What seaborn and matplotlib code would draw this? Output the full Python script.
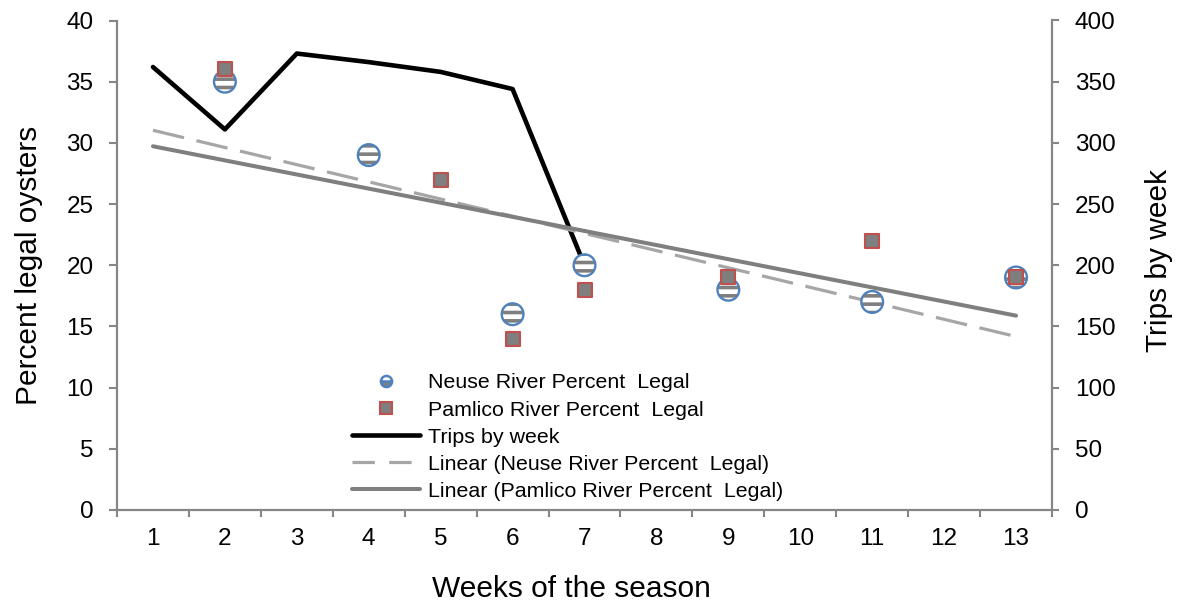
import numpy as np
import pandas as pd
import matplotlib
matplotlib.use("Agg")
import matplotlib.pyplot as plt
from matplotlib.lines import Line2D
import seaborn as sns

# Season weeks (category axis)
weeks = list(range(1, 14))

# Percent legal oysters by river
neuse_weeks = [2, 4, 6, 7, 9, 11, 13]
neuse_pct = [35, 29, 16, 20, 18, 17, 19]
pamlico_weeks = [2, 5, 6, 7, 9, 11, 13]
pamlico_pct = [36, 27, 14, 18, 19, 22, 19]

# Trips by week
trip_weeks = [1, 2, 3, 4, 5, 6, 7]
trips = [362, 311, 373, 366, 358, 344, 200]

sns.set_theme(style="white")
plt.rcParams["font.family"] = ["Liberation Sans", "DejaVu Sans"]
plt.rcParams["text.color"] = "black"
plt.rcParams["axes.labelcolor"] = "black"
plt.rcParams["hatch.color"] = "#7f7f7f"
plt.rcParams["hatch.linewidth"] = 2.6

SPINE = "#868686"
BLUE = "#4f81bd"
RED = "#c0504d"
GRAY = "#7f7f7f"
LIGHT = "#a6a6a6"

W, H = 1177, 601
fig = plt.figure(figsize=(W / 100, H / 100), dpi=100)
ax = fig.add_axes([117 / W, 1 - 510 / H, (1052 - 117) / W, (510 - 20.5) / H])
ax2 = ax.twinx()

neuse = pd.DataFrame({"week": neuse_weeks, "pct": neuse_pct})
pamlico = pd.DataFrame({"week": pamlico_weeks, "pct": pamlico_pct})
trip_df = pd.DataFrame({"week": trip_weeks, "trips": trips})

# Linear trend lines across the category range
xs = np.array([weeks[0], weeks[-1]], dtype=float)
cn = np.polyfit(neuse_weeks, neuse_pct, 1)
cp = np.polyfit(pamlico_weeks, pamlico_pct, 1)
trend = pd.DataFrame({"x": xs, "neuse": np.polyval(cn, xs), "pamlico": np.polyval(cp, xs)})
sns.lineplot(data=trend, x="x", y="neuse", ax=ax, color=LIGHT, lw=2.3, zorder=2)
ax.lines[-1].set_dashes([10, 4])
sns.lineplot(data=trend, x="x", y="pamlico", ax=ax, color=GRAY, lw=2.9,
             solid_capstyle="round", zorder=2)

# Neuse markers: hatched white circle with blue rim
sns.scatterplot(data=neuse, x="week", y="pct", ax=ax, marker="o", s=245,
                facecolor="white", edgecolor=GRAY, linewidth=0, hatch="--", zorder=4)
sns.scatterplot(data=neuse, x="week", y="pct", ax=ax, marker="o", s=245,
                facecolor="none", edgecolor=BLUE, linewidth=1.7, zorder=5)
# Pamlico markers: gray square with red rim
sns.scatterplot(data=pamlico, x="week", y="pct", ax=ax, marker="s", s=100,
                facecolor=GRAY, edgecolor=RED, linewidth=1.5, zorder=6)

# Trips on the secondary axis
sns.lineplot(data=trip_df, x="week", y="trips", ax=ax2, color="black", lw=3.3, zorder=3)

ax.set_xlim(0.5, 13.5)
ax.set_ylim(0, 40)
ax2.set_ylim(0, 400)
ax.set_yticks(np.arange(0, 41, 5))
ax2.set_yticks(np.arange(0, 401, 50))
ax.set_xticks(weeks)
ax.set_xticks(np.arange(0.5, 13.6, 1), minor=True)

for a in (ax, ax2):
    for s in a.spines.values():
        s.set_color(SPINE)
        s.set_linewidth(1.6)
    a.spines["top"].set_visible(False)
    a.set_facecolor("none")
ax2.spines["left"].set_visible(False)
ax2.spines["bottom"].set_visible(False)
ax.spines["right"].set_visible(False)
ax.set_zorder(ax2.get_zorder() + 1)

TS = 17.5
ax.tick_params(axis="x", which="major", length=0, pad=13, labelsize=TS, colors="black")
ax.tick_params(axis="x", which="minor", bottom=True, length=5, width=1.5, color=SPINE, direction="out")
ax.tick_params(axis="y", left=True, length=5.5, width=1.5, color=SPINE, direction="out",
               pad=11.5, labelsize=TS, labelcolor="black")
ax2.tick_params(axis="y", right=True, length=5, width=1.5, color=SPINE, direction="out",
                pad=11.5, labelsize=TS, labelcolor="black")

LS = 21.5
ax.set_xlabel("Weeks of the season", fontsize=LS, labelpad=18)
ax.xaxis.label.set_x(0.486)
ax.set_ylabel("Percent legal oysters", fontsize=LS, labelpad=17)
ax2.set_ylabel("Trips by week", fontsize=LS, labelpad=21)
ax2.yaxis.label.set_y(0.51)

handles = [
    Line2D([], [], ls="none", marker="o", markersize=8, markerfacecolor=GRAY,
           markerfacecoloralt="white", fillstyle="bottom",
           markeredgecolor=BLUE, markeredgewidth=1.8),
    Line2D([], [], ls="none", marker="s", markersize=8.5, markerfacecolor=GRAY,
           markeredgecolor=RED, markeredgewidth=1.5),
    Line2D([], [], color="black", lw=3.3),
    Line2D([], [], color=LIGHT, lw=2.3, dashes=[7, 4.5]),
    Line2D([], [], color=GRAY, lw=2.9),
]
labels = [
    "Neuse River Percent  Legal",
    "Pamlico River Percent  Legal",
    "Trips by week",
    "Linear (Neuse River Percent  Legal)",
    "Linear (Pamlico River Percent  Legal)",
]
leg = ax.legend(handles, labels, loc="upper left", bbox_to_anchor=(0.251, 0.279),
                frameon=False, fontsize=15.4, handlelength=3.2, handletextpad=0.38,
                labelspacing=0.38, borderaxespad=0, borderpad=0)

fig.savefig("out.png", dpi=100)
